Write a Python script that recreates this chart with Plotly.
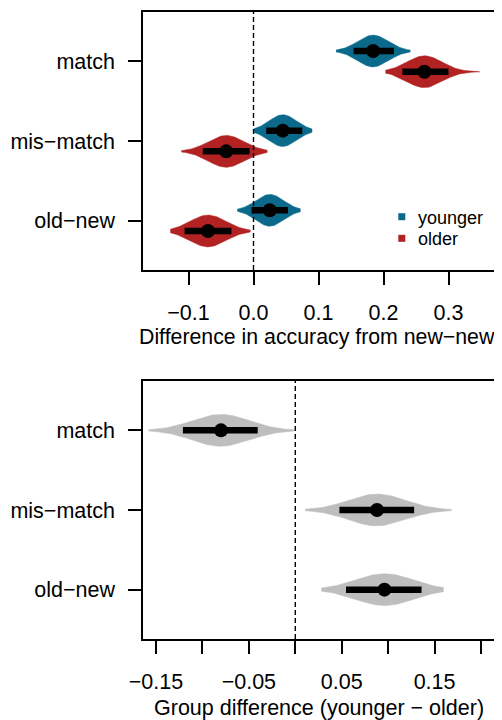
import numpy as np
import plotly.graph_objects as go

# ---------------- data ----------------
conditions = ["old−new", "mis−match", "match"]
cond_pos = [1, 2, 3]

# top panel: difference in accuracy from new-new
young_mean = [0.025, 0.045, 0.184]
young_lo = [-0.003, 0.0195, 0.154]
young_hi = [0.053, 0.075, 0.216]
young_min = [-0.025, 0.0005, 0.127]
young_max = [0.072, 0.090, 0.241]

old_mean = [-0.070, -0.042, 0.263]
old_lo = [-0.106, -0.078, 0.229]
old_hi = [-0.034, -0.006, 0.300]
old_min = [-0.128, -0.111, 0.203]
old_max = [-0.005, 0.021, 0.348]

# bottom panel: group difference (younger - older)
diff_mean = [0.096, 0.088, -0.080]
diff_lo = [0.0546, 0.0475, -0.121]
diff_hi = [0.136, 0.128, -0.0405]
diff_min = [0.028, 0.0105, -0.158]
diff_max = [0.1595, 0.168, -0.0014]

top_tickvals = [-0.1, 0.0, 0.1, 0.2, 0.3]
top_ticktext = ["−0.1", "0.0", "0.1", "0.2", "0.3"]
bot_tickvals = [-0.15, -0.10, -0.05, 0.0, 0.05, 0.10, 0.15, 0.20]
bot_ticktext = ["−0.15", "", "−0.05", "", "0.05", "", "0.15", ""]

group_names = ["younger", "older"]

# ---------------- style ----------------
C_YOUNG = "#0B6A8C"
C_OLD = "#B22222"
C_GRAY = "#BEBEBE"
FONT = "Liberation Sans, Arial, sans-serif"
OFF = 8                      # page body margin of the browser
W, H = 502 - OFF, 720 - OFF
# plot box in window pixels: x 143..494, y 12..639
L, R, T, B = 143 - OFF, 502 - 494, 12 - OFF, 720 - 639
HALF = 0.2      # max half-height of a violin (y units)
OFFSET = 0.13   # vertical offset of the two groups


def px2x(p):  # window pixel -> paper x
    return (p - 143) / (494 - 143)


def py2y(p):  # window pixel -> paper y
    return (639 - p) / (639 - 12)


fig = go.Figure()


def add_violins(means, los, his, mins, maxs, ypos, color, xa, ya):
    for m, lo, hi, vmin, vmax, y0 in zip(means, los, his, mins, maxs, ypos):
        sd = (hi - lo) / 2.6
        g = np.linspace(vmin, vmax, 80)
        d = np.exp(-0.5 * ((g - m) / sd) ** 2) * HALF
        xs = np.concatenate([g, g[::-1]])
        ys = np.concatenate([y0 + d, (y0 - d)[::-1]])
        fig.add_trace(go.Scatter(x=xs, y=ys, mode="lines", fill="toself",
                                 fillcolor=color, line=dict(color=color, width=0.5),
                                 xaxis=xa, yaxis=ya, showlegend=False, hoverinfo="skip"))
        fig.add_trace(go.Scatter(x=[lo, hi], y=[y0, y0], mode="lines",
                                 line=dict(color="black", width=6.5),
                                 xaxis=xa, yaxis=ya, showlegend=False, hoverinfo="skip"))
        fig.add_trace(go.Scatter(x=[m], y=[y0], mode="markers",
                                 marker=dict(color="black", size=14),
                                 xaxis=xa, yaxis=ya, showlegend=False, hoverinfo="skip"))


add_violins(young_mean, young_lo, young_hi, young_min, young_max,
            [c + OFFSET for c in cond_pos], C_YOUNG, "x", "y")
add_violins(old_mean, old_lo, old_hi, old_min, old_max,
            [c - OFFSET for c in cond_pos], C_OLD, "x", "y")
add_violins(diff_mean, diff_lo, diff_hi, diff_min, diff_max,
            cond_pos, C_GRAY, "x2", "y2")

axis_common = dict(showline=True, linecolor="black", linewidth=1.5, mirror=True,
                   ticks="outside", ticklen=13, tickwidth=1.5, tickcolor="black",
                   showgrid=False, zeroline=False, automargin=False,
                   tickfont=dict(family=FONT, size=21.5, color="black"))

fig.update_layout(
    template="none",
    width=W, height=H,
    margin=dict(l=L, r=R, t=T, b=B, autoexpand=False),
    paper_bgcolor="white", plot_bgcolor="white",
    showlegend=False,
    xaxis=dict(domain=[0, 1], anchor="y", range=[-0.17, 0.37],
               tickvals=top_tickvals, ticktext=top_ticktext,
               ticklabelstandoff=9, **axis_common),
    yaxis=dict(domain=[py2y(270), 1], anchor="x", range=[0.38, 3.62],
               tickvals=cond_pos, ticktext=conditions,
               ticklabelstandoff=9, **axis_common),
    xaxis2=dict(domain=[0, 1], anchor="y2", range=[-0.164, 0.214],
                tickvals=bot_tickvals, ticktext=bot_ticktext,
                ticklabelstandoff=9, **axis_common),
    yaxis2=dict(domain=[0, py2y(381)], anchor="x2", range=[0.38, 3.62],
                tickvals=cond_pos, ticktext=conditions,
                ticklabelstandoff=9, **axis_common),
)

# dashed zero lines
for xa, ya in (("x", "y"), ("x2", "y2")):
    fig.add_shape(type="line", xref=xa, yref=ya + " domain", x0=0, x1=0, y0=0, y1=1,
                  line=dict(color="black", width=1.4, dash="5px,3px"), layer="above")

# axis titles
fig.add_annotation(text="Difference in accuracy from new−new", xref="paper", yref="paper",
                   x=px2x(317), y=py2y(337), xanchor="center", yanchor="middle", showarrow=False,
                   font=dict(family=FONT, size=21.3, color="black"))
fig.add_annotation(text="Group difference (younger − older)", xref="paper", yref="paper",
                   x=px2x(319), y=py2y(708), xanchor="center", yanchor="middle", showarrow=False,
                   font=dict(family=FONT, size=21.5, color="black"))

# legend (squares + labels)
for name, col, cy in zip(group_names, [C_YOUNG, C_OLD], [216.7, 238.3]):
    fig.add_shape(type="rect", xref="paper", yref="paper",
                  x0=px2x(398.3), x1=px2x(405.3), y0=py2y(cy + 3.5), y1=py2y(cy - 3.5),
                  fillcolor=col, line=dict(width=0))
    fig.add_annotation(text=name, xref="paper", yref="paper", x=px2x(416), y=py2y(cy + 1),
                       xanchor="left", yanchor="middle", showarrow=False,
                       font=dict(family=FONT, size=18, color="black"))

fig.write_html("out.html")
